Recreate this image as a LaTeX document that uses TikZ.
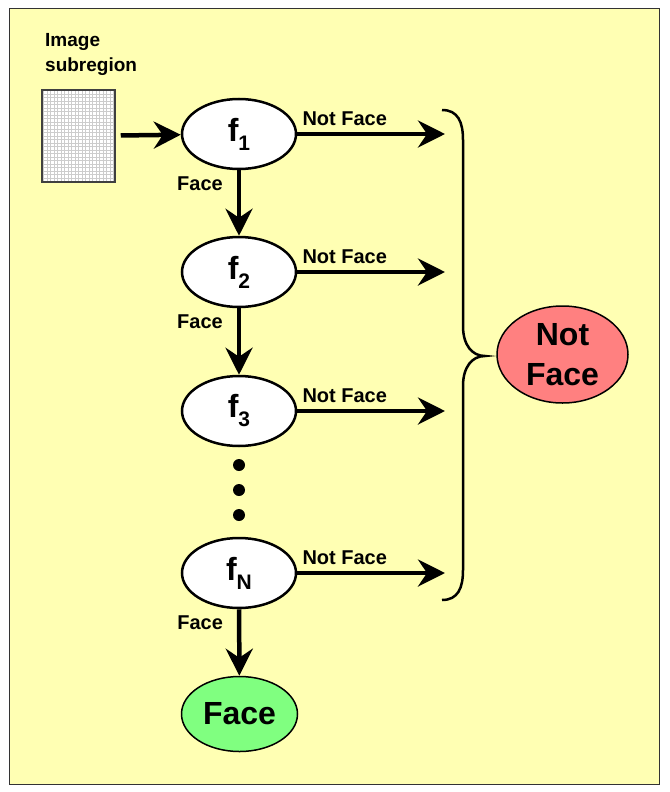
\documentclass[tikz,border=0pt]{standalone}
\usepackage{fontspec}
\setmainfont{Liberation Sans}
\usetikzlibrary{arrows.meta, shapes.geometric}

\definecolor{paper}{RGB}{255,255,179}
\definecolor{notred}{RGB}{255,128,128}
\definecolor{facegreen}{RGB}{128,255,128}

\newcommand\fsub[1]{f\raisebox{-9pt}{\fontsize{21}{21}\selectfont#1}}

\begin{document}
\begin{tikzpicture}[x=1pt, y=-1pt,
  stage/.style={ellipse, draw, line width=2.5pt, fill=white, minimum width=114pt,
    minimum height=70pt, inner sep=0pt, font=\bfseries\fontsize{32}{32}\selectfont},
  result/.style={ellipse, draw, line width=1.5pt, inner sep=0pt, align=center,
    font=\bfseries\fontsize{32}{40}\selectfont},
  flow/.style={line width=4.5pt, -{Stealth[length=27pt, width=27pt, inset=9pt]}},
  lbl/.style={font=\bfseries\fontsize{20}{25}\selectfont, inner sep=1pt},
  dot/.style={circle, fill, minimum size=12pt, inner sep=0pt}]%
  \useasboundingbox (0,0) rectangle (669,792);
  \fill[white] (0,0) rectangle (669,792);
  \draw[fill=paper, line width=1pt, draw=black!80] (9,9) rectangle (659,784);

  \node[draw=black!75, line width=1.5pt, fill=white, minimum width=73pt,
    minimum height=92pt, inner sep=0pt,
    path picture={\draw[gray!40, line width=.5pt, step=3.5pt]
      (path picture bounding box.south west) grid (path picture bounding box.north east);}]
    (img) at (78.5,136) {};
  \node[lbl, align=left, anchor=north west, font=\bfseries\fontsize{19}{25}\selectfont]
    (imglbl) at (44,32) {Image\\subregion};

  \foreach \n/\y in {1/134, 2/272, 3/411, N/573} {
    \node[stage] (f\n) at (239,\y) {\fsub{\n}};
    \coordinate (nf\n) at (445,\y);
    \draw[flow] (f\n.east) -- (nf\n)
      node[lbl, pos=0, anchor=south west, xshift=2pt, yshift=5pt] {Not Face};
  }

  \node[dot] (d1) at (239,465) {};
  \node[dot] (d2) at (239,490) {};
  \node[dot] (d3) at (239,515) {};

  \node[result, fill=facegreen, minimum width=116pt, minimum height=75pt] (face) at (239.5,714) {Face};
  \node[result, fill=notred, minimum width=131pt, minimum height=97pt] (notface) at (562.5,354.5) {Not\\Face};

  \draw[flow, shorten <=5pt] (img) -- (f1);
  \draw[flow] (f1) -- (f2) node[lbl, pos=.2, anchor=east, xshift=-13pt] {Face};
  \draw[flow] (f2) -- (f3) node[lbl, pos=.2, anchor=east, xshift=-13pt] {Face};
  \draw[flow] (fN) -- (face) node[lbl, pos=.2, anchor=east, xshift=-13pt] {Face};

  \draw[line width=2.5pt]
    (442,110) .. controls (458,110) and (463,122) .. (463,140)
    -- (463,326) .. controls (463,345) and (472,356) .. (485,356)
    .. controls (472,356) and (463,367) .. (463,386)
    -- (463,570) .. controls (463,588) and (458,600) .. (442,600);
\end{tikzpicture}
\end{document}
